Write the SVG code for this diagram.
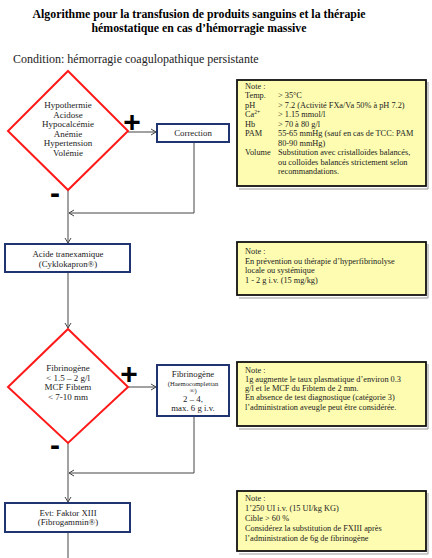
<svg xmlns="http://www.w3.org/2000/svg" width="432" height="558" viewBox="0 0 432 558">
<defs>
<style>
.t{font-family:"Liberation Serif","Times New Roman",serif;fill:#222;}
.title{font-family:"Liberation Serif","Times New Roman",serif;font-weight:bold;font-size:11.8px;fill:#000;text-anchor:middle;}
.dt{font-size:9px;text-anchor:middle;}
.bt{font-size:8.8px;text-anchor:middle;}
.st{font-size:6.6px;text-anchor:middle;}
.nt{font-size:8.3px;}
.dia{fill:#fff;stroke:#ff1a1a;stroke-width:2;}
.box{fill:#fff;stroke:#1f3470;stroke-width:2;}
.note{fill:#fdfcb0;stroke:#111;stroke-width:1.8;}
.sh{fill:none;stroke:#999;stroke-width:1;}
.con{fill:none;stroke:#444;stroke-width:1;}
.sign{font-family:"Liberation Sans",Arial,sans-serif;font-weight:bold;font-size:30px;fill:#000;text-anchor:middle;}
</style>
<marker id="arr" markerWidth="8" markerHeight="8" refX="6" refY="4" orient="auto" markerUnits="userSpaceOnUse">
<path d="M1,1 L6,4 L1,7" fill="none" stroke="#444" stroke-width="1"/>
</marker>
</defs>
<rect width="432" height="558" fill="#fff"/>
<g id="title">
<text class="title" x="199" y="18">Algorithme pour la transfusion de produits sanguins et la thérapie</text>
<text class="title" x="199" y="32">hémostatique en cas d’hémorragie massive</text>
</g>
<text class="t" x="13" y="63" font-size="12">Condition: hémorragie coagulopathique persistante</text>

<g id="connectors">
<path class="con" d="M68,190 V243" marker-end="url(#arr)"/>
<path class="con" d="M128,132 H156" marker-end="url(#arr)"/>
<path class="con" d="M194,142 V213 H69" marker-end="url(#arr)"/>
<path class="con" d="M68,272 V328" marker-end="url(#arr)"/>
<path class="con" d="M128,387 H156" marker-end="url(#arr)"/>
<path class="con" d="M194,416 V473 H69" marker-end="url(#arr)"/>
<path class="con" d="M68,443 V502" marker-end="url(#arr)"/>
<path class="con" d="M68,532 V558"/>
</g>

<g id="diamond1">
<polygon class="dia" points="68,71 128,131 68,190 8,131"/>
<text class="t dt" x="68" y="108">Hypothermie</text>
<text class="t dt" x="68" y="117.5">Acidose</text>
<text class="t dt" x="68" y="127">Hypocalcémie</text>
<text class="t dt" x="68" y="136.5">Anémie</text>
<text class="t dt" x="68" y="146">Hypertension</text>
<text class="t dt" x="68" y="155.5">Volémie</text>
</g>
<text class="sign" x="132" y="132">+</text>
<text class="sign" x="55" y="203">-</text>

<g id="correction">
<rect class="box" x="157" y="124" width="72" height="18"/>
<text class="t bt" x="193" y="136">Correction</text>
</g>

<g id="note1">
<path class="sh" d="M428,82 V189 H239"/>
<rect class="note" x="237" y="80" width="189" height="106"/>
<text class="t nt" x="245" y="89">Note :</text>
<text class="t nt" x="245" y="98">Temp.</text><text class="t nt" x="278" y="98">&gt; 35°C</text>
<text class="t nt" x="245" y="107.5">pH</text><text class="t nt" x="278" y="107.5">&gt; 7.2 (Activité FXa/Va 50% à pH 7.2)</text>
<text class="t nt" x="245" y="117">Ca<tspan style="font-size:5.5px" dy="-3">2+</tspan></text><text class="t nt" x="278" y="117">&gt; 1.15 mmol/l</text>
<text class="t nt" x="245" y="126.5">Hb</text><text class="t nt" x="278" y="126.5">&gt; 70 à 80 g/l</text>
<text class="t nt" x="245" y="136">PAM</text><text class="t nt" x="278" y="136">55-65 mmHg (sauf en cas de TCC: PAM</text>
<text class="t nt" x="278" y="145.5">80-90 mmHg)</text>
<text class="t nt" x="245" y="155">Volume</text><text class="t nt" x="278" y="155">Substitution avec cristalloïdes balancés,</text>
<text class="t nt" x="278" y="164.5">ou colloïdes balancés strictement selon</text>
<text class="t nt" x="278" y="174">recommandations.</text>
</g>

<g id="acide">
<rect class="box" x="5" y="244" width="125" height="28"/>
<text class="t bt" x="68" y="257">Acide tranexamique</text>
<text class="t bt" x="68" y="267">(Cyklokapron®)</text>
</g>

<g id="note2">
<path class="sh" d="M428,244 V298 H239"/>
<rect class="note" x="237" y="242" width="189" height="53"/>
<text class="t nt" x="245" y="254">Note :</text>
<text class="t nt" x="245" y="263.5">En prévention ou thérapie d’hyperfibrinolyse</text>
<text class="t nt" x="245" y="273">locale ou systémique</text>
<text class="t nt" x="245" y="282.5">1 - 2 g i.v. (15 mg/kg)</text>
</g>

<g id="diamond2">
<polygon class="dia" points="68,329 128,387 68,443 8,387"/>
<text class="t dt" x="68" y="371">Fibrinogène</text>
<text class="t dt" x="68" y="380.5">&lt; 1.5 – 2 g/l</text>
<text class="t dt" x="68" y="390">MCF Fibtem</text>
<text class="t dt" x="68" y="399.5">&lt; 7-10 mm</text>
</g>
<text class="sign" x="129" y="384">+</text>
<text class="sign" x="55" y="455">-</text>

<g id="fibrinogene">
<rect class="box" x="157" y="365" width="72" height="51"/>
<text class="t bt" x="193" y="377">Fibrinogène</text>
<text class="t st" x="193" y="385.5">(Haemocomplettan</text>
<text class="t st" x="193" y="393">®)</text>
<text class="t bt" x="193" y="402">2 – 4,</text>
<text class="t bt" x="193" y="411">max. 6 g i.v.</text>
</g>

<g id="note3">
<path class="sh" d="M428,364 V429 H239"/>
<rect class="note" x="237" y="362" width="189" height="64"/>
<text class="t nt" x="245" y="373">Note :</text>
<text class="t nt" x="245" y="382">1g augmente le taux plasmatique d’environ 0.3</text>
<text class="t nt" x="245" y="391">g/l et le MCF du Fibtem de 2 mm.</text>
<text class="t nt" x="245" y="400">En absence de test diagnostique (catégorie 3)</text>
<text class="t nt" x="245" y="409.5">l’administration aveugle peut être considérée.</text>
</g>

<g id="faktor">
<rect class="box" x="5" y="503" width="125" height="29"/>
<text class="t bt" x="68" y="516">Evt: Faktor XIII</text>
<text class="t bt" x="68" y="525">(Fibrogammin®)</text>
</g>

<g id="note4">
<path class="sh" d="M428,493 V554 H239"/>
<rect class="note" x="237" y="491" width="189" height="60"/>
<text class="t nt" x="245" y="501">Note :</text>
<text class="t nt" x="245" y="511">1’250 UI i.v. (15 UI/kg KG)</text>
<text class="t nt" x="245" y="521">Cible &gt; 60 %</text>
<text class="t nt" x="245" y="531">Considérez la substitution de FXIII après</text>
<text class="t nt" x="245" y="541">l’administration de 6g de fibrinogène</text>
</g>
</svg>
